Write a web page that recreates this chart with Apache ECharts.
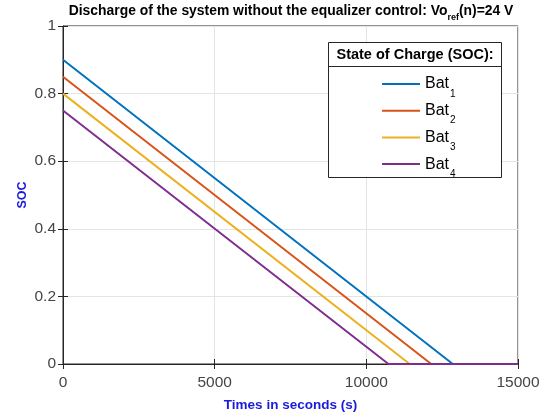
<!DOCTYPE html>
<html><head><meta charset="utf-8">
<script src="https://cdn.jsdelivr.net/npm/echarts@6/dist/echarts.min.js"></script>
<style>html,body{margin:0;padding:0;background:#fff}#c{width:555px;height:417px}</style>
</head><body><div id="c"></div>
<script>
const seriesNames = ['Bat1', 'Bat2', 'Bat3', 'Bat4'];
const subs = ['1', '2', '3', '4'];
const colors = ['#0072BD', '#D95319', '#EDB120', '#7E2F8E'];
const startSOC = [0.9, 0.85, 0.8, 0.75];
const zeroTime = [12850, 12140, 11430, 10730];
const endTime = 15000;
const xTicks = [0, 5000, 10000, 15000];
const yTicks = [0, 0.2, 0.4, 0.6, 0.8, 1];

const font = 'Liberation Sans, Arial, sans-serif';
const chart = echarts.init(document.getElementById('c'), null, {renderer: 'canvas'});
const series = seriesNames.map((n, i) => ({
  name: n, type: 'line', showSymbol: false, symbol: 'none',
  lineStyle: {width: 2, color: colors[i]}, itemStyle: {color: colors[i]},
  data: [[0, startSOC[i]], [zeroTime[i], 0], [endTime, 0]]
}));
const axCol = '#262626';
const lblCol = '#444';
chart.setOption({
  animation: false,
  title: {
    text: '{m|Discharge of the system without the equalizer control: Vo}{s|ref}{m|(n)=24 V}',
    left: 286, textAlign: 'center', top: -5,
    textStyle: {fontFamily: font, fontSize: 13.9, fontWeight: 'bold', color: '#000',
      rich: {
        m: {fontFamily: font, fontSize: 13.9, fontWeight: 'bold', color: '#000', lineHeight: 22, verticalAlign: 'middle'},
        s: {fontFamily: font, fontSize: 9, fontWeight: 'bold', color: '#000', lineHeight: 9, verticalAlign: 'bottom'}
      }}
  },
  grid: {left: 63, right: 37, top: 26, bottom: 53, show: true, borderColor: axCol, borderWidth: 1},
  xAxis: [{
    type: 'value', min: xTicks[0], max: xTicks[xTicks.length - 1], interval: 5000,
    name: 'Times in seconds (s)', nameLocation: 'middle', nameGap: 34,
    nameTextStyle: {fontFamily: font, fontSize: 13.5, fontWeight: 'bold', color: '#1a1adb'},
    axisLine: {lineStyle: {color: axCol}},
    axisTick: {inside: true, length: 5, lineStyle: {color: axCol}},
    axisLabel: {fontFamily: font, fontSize: 15.5, color: lblCol, margin: 11, formatter: v => String(v)},
    splitLine: {show: true, lineStyle: {color: '#e4e4e4', width: 1}}
  }, {
    type: 'value', position: 'top', min: 0, max: 15000, interval: 5000,
    axisLine: {show: false}, axisLabel: {show: false},
    axisTick: {inside: true, length: 5, lineStyle: {color: axCol}}, splitLine: {show: false}
  }],
  yAxis: [{
    type: 'value', min: yTicks[0], max: yTicks[yTicks.length - 1], interval: 0.2,
    name: 'SOC', nameLocation: 'middle', nameGap: 34, nameMoveOverlap: false,
    nameTextStyle: {fontFamily: font, fontSize: 12.5, fontWeight: 'bold', color: '#1a1adb'},
    axisLine: {show: true, lineStyle: {color: axCol}},
    axisTick: {show: true, inside: true, length: 5, lineStyle: {color: axCol}},
    axisLabel: {fontFamily: font, fontSize: 15.5, color: lblCol, margin: 7},
    splitLine: {show: true, lineStyle: {color: '#e4e4e4', width: 1}}
  }, {
    type: 'value', position: 'right', min: 0, max: 1, interval: 0.2,
    axisLine: {show: false}, axisLabel: {show: false},
    axisTick: {show: true, inside: true, length: 5, lineStyle: {color: axCol}}, splitLine: {show: false}
  }],
  graphic: [
    {type: 'rect', z: 50, shape: {x: 328.5, y: 42.5, width: 173, height: 135},
     style: {fill: '#fff', stroke: axCol, lineWidth: 1}},
    {type: 'line', z: 51, shape: {x1: 328.5, y1: 66.5, x2: 501.5, y2: 66.5},
     style: {stroke: axCol, lineWidth: 1}},
    {type: 'text', z: 51, x: 415, y: 55,
     style: {text: 'State of Charge (SOC):', fontFamily: font, fontSize: 14.5, fontWeight: 'bold',
       fill: '#000', align: 'center', verticalAlign: 'middle'}}
  ],
  legend: {
    z: 60, orient: 'vertical', left: 377, top: 71, itemWidth: 38, itemHeight: 2, itemGap: 3.7,
    data: seriesNames.map((n, i) => ({name: n, itemStyle: {color: colors[i]}})), icon: 'rect',
    formatter: n => '{b|Bat}{s|' + subs[seriesNames.indexOf(n)] + '}',
    textStyle: {fontFamily: font, fontSize: 16, color: '#000',
      rich: {
        b: {fontFamily: font, fontSize: 16, color: '#000', lineHeight: 30, verticalAlign: 'middle'},
        s: {fontFamily: font, fontSize: 10, color: '#000', lineHeight: 10, verticalAlign: 'bottom', padding: [0, 0, 0, 1]}
      }}
  },
  series: series
});
</script></body></html>
